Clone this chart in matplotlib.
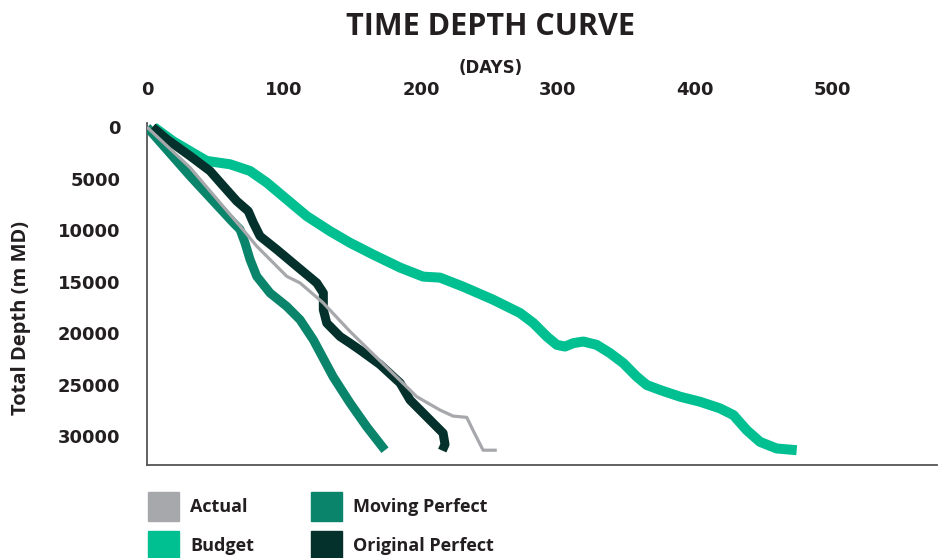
import matplotlib
matplotlib.use("Agg")
import matplotlib.pyplot as plt
from matplotlib.patches import Rectangle

plt.rcParams['font.family'] = ['Open Sans', 'DejaVu Sans']

# ---- data (days, depth m MD) ----
budget_days = [5, 19, 31.4, 43.6, 60.6, 75.2, 87.4, 102, 116.6, 133.6, 148.2, 165, 184.7,
               201.5, 213.9, 230.7, 252.6, 272.3, 282, 291.8, 299.1, 305.1, 311.2, 318.5,
               328.2, 338, 347.7, 357.4, 364.7, 374.5, 389.1, 403.6, 418.2, 428, 437.7,
               447.4, 459.6, 474.2]
budget_depth = [0, 1364, 2338, 3282, 3604, 4256, 5386, 7013, 8639, 10100, 11230, 12370, 13636,
                14512, 14610, 15486, 16752, 18048, 19022, 20327, 21136, 21301, 20970, 20814,
                21136, 21944, 22918, 24223, 25032, 25519, 26171, 26658, 27301, 27954, 29415,
                30554, 31197, 31363]

moving_days = [0, 31.4, 63, 67.9, 71.5, 75.2, 80.1, 89.8, 102, 111.7, 121.4, 135.8, 148.2,
               160.4, 173.7]
moving_depth = [0, 4743, 9282, 9935, 11230, 12857, 14483, 16100, 17405, 18700, 20648, 24223,
                26785, 29093, 31363]

original_days = [4, 14.4, 31.4, 46, 55.7, 65.5, 73.9, 77.6, 82.5, 94.7, 109.3, 123.9, 128.7,
                 128.7, 131.2, 140.9, 148.2, 155.5, 170, 184.7, 192, 208.8, 216.1, 217.5, 215.5]
original_depth = [0, 1169, 2795, 4256, 5717, 7178, 8152, 9282, 10587, 11883, 13509, 15126, 16100,
                  17727, 19022, 20327, 20970, 21640, 23040, 24836, 26493, 28733, 29707, 30800, 31400]

actual_days = [0, 31.4, 67.9, 80.1, 102, 111.7, 128.7, 148.2, 160.4, 196.9, 213.9, 223.4,
               233.4, 238, 245.3, 255.3]
actual_depth = [0, 3925, 9613, 11561, 14483, 15126, 17074, 19840, 21428, 26171, 27467, 28051,
                28178, 29444, 31363, 31363]

x_ticks = [0, 100, 200, 300, 400, 500]
y_ticks = [0, 5000, 10000, 15000, 20000, 25000, 30000]
series_names = ["Actual", "Budget", "Moving Perfect", "Original Perfect"]
series_colors = ["#A7A8AC", "#00BF91", "#0A846A", "#04312B"]

TXT = "#231F20"

fig = plt.figure(figsize=(9.39, 5.58), dpi=100)
ax = fig.add_axes([147/939, 1-465/558, (937-147)/939, (465-123)/558])

ax.plot(budget_days, budget_depth, color=series_colors[1], lw=7.2,
        solid_joinstyle='round', solid_capstyle='butt', zorder=2)
ax.plot(moving_days, moving_depth, color=series_colors[2], lw=6.5,
        solid_joinstyle='round', solid_capstyle='butt', zorder=3)
ax.plot(original_days, original_depth, color=series_colors[3], lw=6.5,
        solid_joinstyle='round', solid_capstyle='butt', zorder=4)
ax.plot(actual_days, actual_depth, color=series_colors[0], lw=2.3,
        solid_joinstyle='round', solid_capstyle='butt', zorder=5)

ax.set_xlim(0, 576.6)
ax.set_ylim(32800, -400)
ax.xaxis.tick_top()
ax.set_xticks(x_ticks)
ax.set_yticks(y_ticks)
ax.set_xticklabels([str(v) for v in x_ticks])
ax.set_yticklabels([str(v) for v in y_ticks])
ax.tick_params(axis='both', length=0, labelsize=13, labelcolor=TXT)
ax.tick_params(axis='x', pad=17)
ax.tick_params(axis='y', pad=19)
for lab in ax.get_xticklabels() + ax.get_yticklabels():
    lab.set_fontweight('bold')
    lab.set_family(['DejaVu Sans'])

for s in ['top', 'right']:
    ax.spines[s].set_visible(False)
for s in ['left', 'bottom']:
    ax.spines[s].set_color('#555555')
    ax.spines[s].set_linewidth(1.3)

fig.text(491/939, 1-27/558, "TIME DEPTH CURVE", ha='center', va='center',
         fontsize=22, fontweight='bold', color=TXT)
fig.text(491/939, 1-68/558, "(DAYS)", ha='center', va='center',
         fontsize=12, fontweight='bold', color=TXT, family=['DejaVu Sans'])
fig.text(21/939, 1-318/558, "Total Depth (m MD)", ha='center', va='center',
         rotation=90, fontsize=14.5, fontweight='bold', color=TXT)

# legend
leg_pos = [(148, 492), (148, 531), (311, 492), (311, 531)]
for (lx, ly), name, col in zip(leg_pos, series_names, series_colors):
    fig.patches.append(Rectangle((lx/939, 1-(ly+29)/558), 31/939, 29/558,
                                 transform=fig.transFigure, color=col, zorder=1))
    fig.text((lx+42)/939, 1-(ly+15)/558, name, ha='left', va='center',
             fontsize=13, fontweight='bold', color=TXT)

fig.savefig("out.png", dpi=100)
